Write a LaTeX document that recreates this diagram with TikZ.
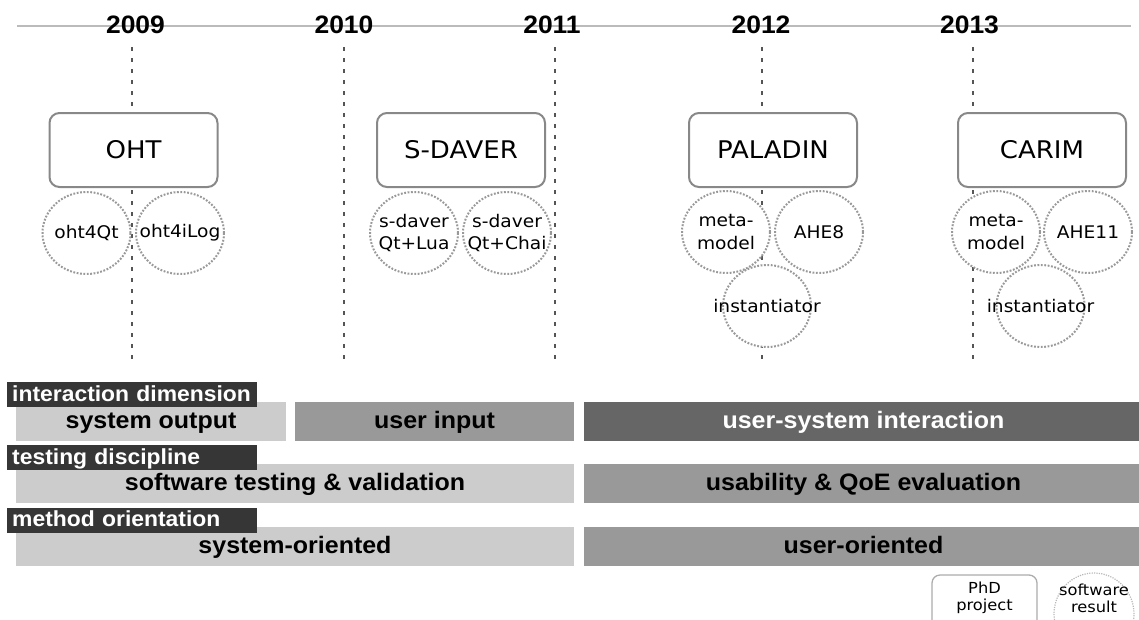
\documentclass[tikz,border=0pt]{standalone}
\usepackage{fontspec}
\newfontfamily\plainsans{DejaVu Sans}[FakeStretch=1.07]
\newfontfamily\heavysans{Liberation Sans}[FakeStretch=1.05]
\definecolor{axisgray}{HTML}{BBBBBB}
\definecolor{tickgray}{HTML}{555555}
\definecolor{boxgray}{HTML}{888888}
\definecolor{dotgray}{HTML}{999999}
\definecolor{barlight}{HTML}{CCCCCC}
\definecolor{barmid}{HTML}{999999}
\definecolor{bardark}{HTML}{666666}
\definecolor{labeldark}{HTML}{363636}
\tikzset{
  axisline/.style={draw=axisgray, line width=2pt},
  yearlabel/.style={font=\heavysans\bfseries\fontsize{25.2}{30}\selectfont, inner sep=0pt, anchor=base},
  tickline/.style={draw=tickgray, line width=2pt, dash pattern=on 4pt off 7pt},
  project/.style={draw=boxgray, line width=2pt, rounded corners=10pt, fill=white,
    minimum width=168pt, minimum height=74pt, inner sep=0pt,
    font=\plainsans\fontsize{24.3}{28}\selectfont},
  softfill/.style={fill=white},
  softdots/.style={draw=dotgray, line width=2pt, dash pattern=on 1.8pt off 1.6pt},
  softtext/.style={align=center, inner sep=0pt, font=\plainsans\fontsize{17.4}{22.5}\selectfont},
  dimlabel/.style={fill=labeldark, text=white, anchor=north west, inner xsep=5pt, inner ysep=1.25pt,
    text width=240pt, text height=18pt, text depth=4.5pt,
    font=\heavysans\bfseries\fontsize{21.8}{26}\selectfont},
  bar/.style={inner xsep=0pt, inner ysep=7pt, minimum height=39pt, text height=19pt, text depth=6pt,
    font=\heavysans\bfseries\fontsize{23.8}{28}\selectfont},
  legendbox/.style={draw=boxgray!70, line width=1.3pt, rounded corners=8pt, fill=white,
    minimum width=105pt, minimum height=74pt, inner sep=0pt},
  legenddots/.style={draw=dotgray!70, line width=1.2pt, dash pattern=on 1.2pt off 1.2pt},
  legendtext/.style={align=center, inner sep=0pt, font=\plainsans\fontsize{15.2}{17}\selectfont},
}
\begin{document}
\begin{tikzpicture}[x=1pt, y=-1pt]
\path[use as bounding box] (0,0) rectangle (1139,619);
\clip (0,0) rectangle (1139,619);

% time axis with the years sitting on it
\coordinate (axisL) at (17,26);
\coordinate (axisR) at (1131,26);
\draw[axisline] (axisL) -- (axisR);
\node[yearlabel] (y2009) at (135.5,33) {2009};
\node[yearlabel] (y2010) at (344,33) {2010};
\node[yearlabel] (y2011) at (552,33) {2011};
\node[yearlabel] (y2012) at (761,33) {2012};
\node[yearlabel] (y2013) at (969.5,33) {2013};

% year markers
\foreach \name/\xx in {a/132, b/344, c/555, d/762, e/973}{
  \coordinate (top\name) at (\xx,47);
  \coordinate (bot\name) at (\xx,360);
  \draw[tickline] (top\name) -- (bot\name);
}

% PhD projects
\node[project] (oht) at (133.5,150) {OHT};
\node[project] (sdaver) at (461,150) {S-DAVER};
\node[project] (paladin) at (773,150) {PALADIN};
\node[project] (carim) at (1042,150) {CARIM};

% software results
\coordinate (qt) at (86.5,233);
\coordinate (ilog) at (180,233);
\coordinate (lua) at (414,233);
\coordinate (chai) at (507,233);
\coordinate (mmA) at (726,232);
\coordinate (ahe8) at (819,232);
\coordinate (instA) at (767,306);
\coordinate (mmB) at (996,232);
\coordinate (ahe11) at (1088,232);
\coordinate (instB) at (1040.5,306);
\foreach \c in {qt,ilog,lua,chai,mmA,ahe8,instA,mmB,ahe11,instB}
  \fill[softfill] (\c) ellipse [x radius=44pt, y radius=41pt];
\foreach \c in {qt,ilog,lua,chai,mmA,ahe8,instA,mmB,ahe11,instB}
  \draw[softdots] (\c) ellipse [x radius=44pt, y radius=41pt];

\node[softtext] (tqt) at (qt) {oht4Qt};
\node[softtext] (tilog) at (ilog) {oht4iLog};
\node[softtext] (tlua) at (lua) {s-daver\\Qt+Lua};
\node[softtext] (tchai) at (chai) {s-daver\\Qt+Chai};
\node[softtext] (tmmA) at (mmA) {meta-\\model};
\node[softtext] (tahe8) at (ahe8) {AHE8};
\node[softtext] (tinstA) at (instA) {instantiator};
\node[softtext] (tmmB) at (mmB) {meta-\\model};
\node[softtext] (tahe11) at (ahe11) {AHE11};
\node[softtext] (tinstB) at (instB) {instantiator};

% dimension bars
\node[bar, fill=barlight, minimum width=270pt] (sysout) at (151,421.5) {system output};
\node[bar, fill=barmid, minimum width=279pt] (usrin) at (434.5,421.5) {user input};
\node[bar, fill=bardark, text=white, minimum width=559pt] (usi) at (863.5,421.5) {user-system interaction};
\node[bar, fill=barlight, minimum width=558pt] (swtest) at (295,483.5) {software testing \& validation};
\node[bar, fill=barmid, minimum width=559pt] (qoe) at (863.5,483.5) {usability \& QoE evaluation};
\node[bar, fill=barlight, minimum width=558pt] (sysor) at (295,546.5) {system-oriented};
\node[bar, fill=barmid, minimum width=559pt] (usror) at (863.5,546.5) {user-oriented};

\node[dimlabel] (dim1) at (7,382) {interaction dimension};
\node[dimlabel] (dim2) at (7,445) {testing discipline};
\node[dimlabel] (dim3) at (7,507.5) {method orientation};

% legend
\node[legendbox] (phd) at (984.5,612) {};
\node[legendtext] (phdtext) at (984.5,598) {PhD\\project};
\coordinate (leg) at (1094,614);
\draw[legenddots] (leg) ellipse [x radius=40pt, y radius=41pt];
\node[legendtext] (legtext) at (1094,598) {software\\result};
\end{tikzpicture}
\end{document}
